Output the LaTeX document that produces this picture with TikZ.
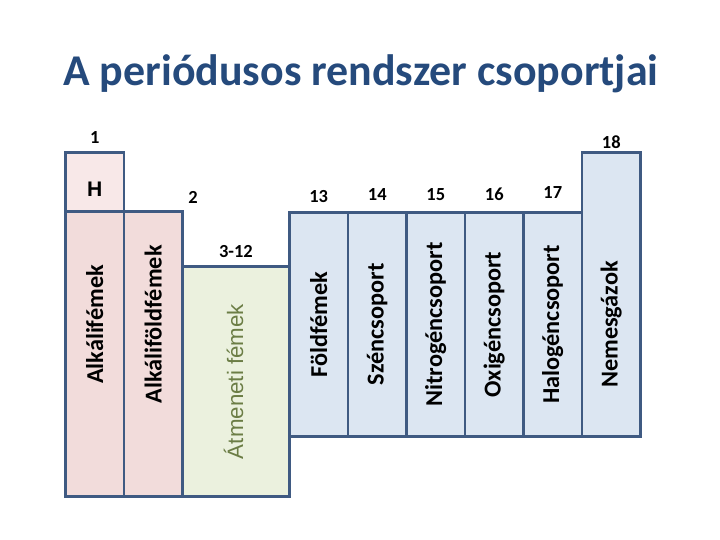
\documentclass[tikz,border=0pt]{standalone}
\usepackage{fontspec}
\setmainfont{Carlito}
\newfontfamily\arialfont{Liberation Sans}
\usetikzlibrary{positioning}
\definecolor{framec}{HTML}{3F5A82}
\definecolor{titlec}{HTML}{254A7C}
\definecolor{pinkc}{HTML}{F2DCDB}
\definecolor{lightpinkc}{HTML}{F8E8E8}
\definecolor{greenc}{HTML}{EBF1DE}
\definecolor{bluec}{HTML}{DCE6F2}
\definecolor{olivetext}{HTML}{6B7D45}

\begin{document}
\begin{tikzpicture}[
    cell/.style={rectangle, draw=framec, line width=1.7pt, anchor=south west,
        inner sep=0pt, minimum width=1.17cm},
    hcell/.style={cell, fill=lightpinkc, minimum height=1.18cm},
    alkcell/.style={cell, fill=pinkc, minimum height=5.70cm},
    trcell/.style={cell, fill=greenc, minimum width=2.14cm, minimum height=4.60cm},
    maincell/.style={cell, fill=bluec, minimum height=4.48cm},
    groupname/.style={rotate=90, font=\fontsize{13.8}{16}\selectfont\bfseries},
    groupnum/.style={font=\fontsize{10.5}{12}\selectfont\bfseries},
]
\useasboundingbox (0,0) rectangle (14.4,10.8);

% Title
\node[anchor=base, text=titlec, font=\fontsize{25}{30}\selectfont\bfseries]
    (title) at (7.22, 9.08) {A periódusos rendszer csoportjai};

% Left block: s-block
\node[hcell]   (hyd)  at (1.28, 6.54) {};
\node[alkcell] (alk)  at (1.28, 0.84) {};
\node[alkcell] (alkf) at (2.45, 0.84) {};

% Middle block: transition metals
\node[trcell] (trans) at (3.62, 0.84) {};

% Right block: p-block
\node[maincell] (g13) at ( 5.76, 2.04) {};
\node[maincell] (g14) at ( 6.93, 2.04) {};
\node[maincell] (g15) at ( 8.10, 2.04) {};
\node[maincell] (g16) at ( 9.27, 2.04) {};
\node[maincell] (g17) at (10.44, 2.04) {};
\node[maincell, minimum height=5.68cm] (g18) at (11.61, 2.04) {};

% Group numbers
\node[groupnum, above=0.3mm of hyd]  (n1)  {1};
\node[groupnum] (n2) at (3.86, 6.86) {2};
\node[groupnum, above=0.3mm of trans] (n3) {3-12};
\node[groupnum, above=0.5mm of g13]  (n13) {13};
\node[groupnum, above=0.8mm of g14]  (n14) {14};
\node[groupnum, above=0.8mm of g15]  (n15) {15};
\node[groupnum, above=0.8mm of g16]  (n16) {16};
\node[groupnum, above=1.2mm of g17]  (n17) {17};
\node[groupnum, above=-0.8mm of g18] (n18) {18};

% Element symbol
\node[font=\arialfont\fontsize{12}{14}\selectfont\bfseries]
    (hsym) at ([yshift=-1.4mm]hyd.center) {H};

% Group names
\node[groupname] (lalk)  at (alk.center |- g13.center)  {Alkálifémek};
\node[groupname] (lalkf) at (alkf.center |- g13.center) {Alkáliföldfémek};
\node[rotate=90, text=olivetext, font=\arialfont\fontsize{12.7}{15}\selectfont]
    (ltrans) at ([xshift=-0.5mm]trans.center) {Átmeneti fémek};
\node[groupname] (l13) at (g13.center) {Földfémek};
\node[groupname] (l14) at (g14.center) {Széncsoport};
\node[groupname] (l15) at (g15.center) {Nitrogéncsoport};
\node[groupname] (l16) at (g16.center) {Oxigéncsoport};
\node[groupname] (l17) at (g17.center) {Halogéncsoport};
\node[groupname] (l18) at (g18.center |- g13.center) {Nemesgázok};

\end{tikzpicture}
\end{document}
